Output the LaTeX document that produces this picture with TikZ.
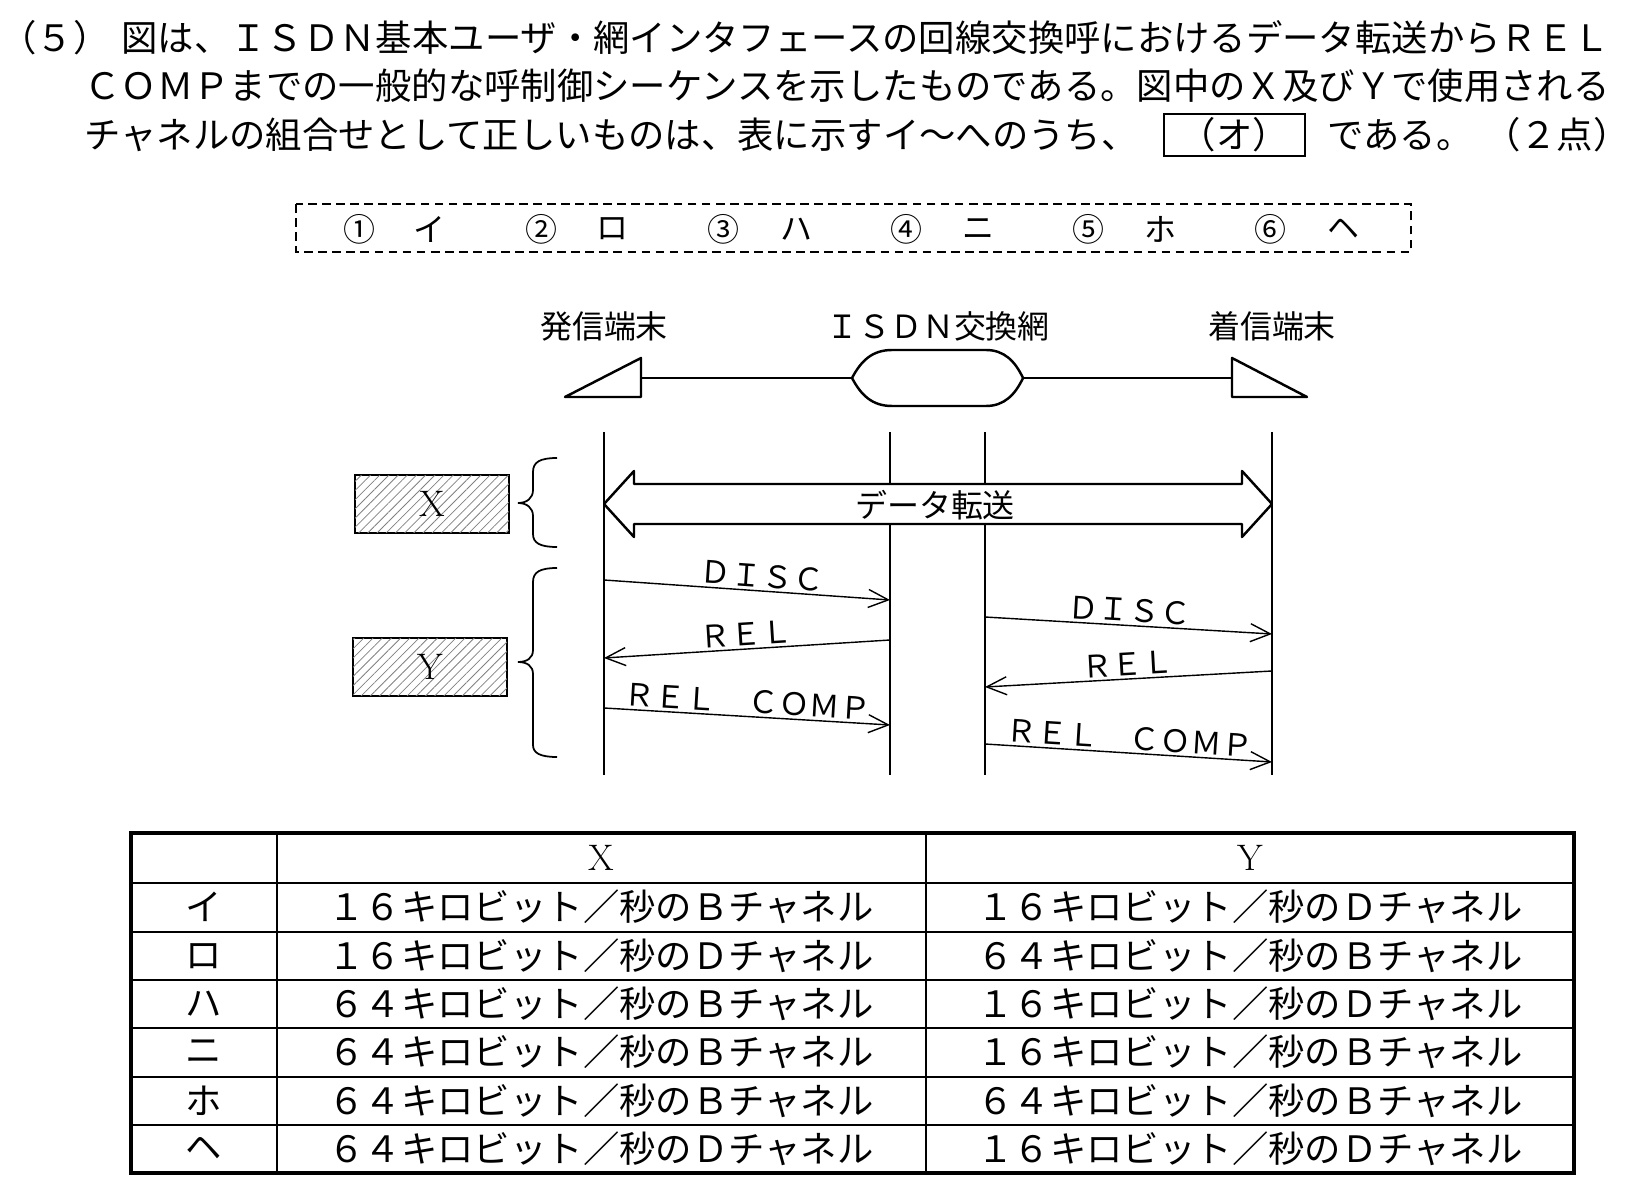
\documentclass[tikz,border=0pt]{standalone}
\usepackage{fontspec}
\newfontfamily\jfont{Noto Sans CJK JP}
\usetikzlibrary{arrows.meta, patterns.meta}

\newcommand{\qsize}{\jfont\fontsize{20.7pt}{25pt}\selectfont}
\newcommand{\lblsize}{\jfont\fontsize{18.2pt}{22pt}\selectfont}
\newcommand{\msgsize}{\jfont\fontsize{17.6pt}{21pt}\selectfont}
\newcommand{\latsize}{\fontsize{21pt}{24pt}\selectfont}

\begin{document}
\begin{tikzpicture}[x=0.02cm, y=-0.02cm,
  qline/.style={anchor=base west, inner sep=0pt, font=\qsize},
  ansbox/.style={draw, line width=1.6pt, minimum width=2.82cm, minimum height=0.84cm, inner sep=0pt, font=\qsize},
  choice/.style={inner sep=0pt, font=\lblsize},
  ent/.style={inner sep=0pt, font=\lblsize},
  heavy/.style={line width=1.4pt, line join=round},
  lifeline/.style={line width=1.4pt},
  hatchbox/.style={draw, line width=1.4pt, minimum width=3.08cm, minimum height=1.16cm, inner sep=0pt,
    postaction={pattern={Lines[angle=45, distance=3.7pt, line width=0.45pt]}, pattern color=black!50},
    font=\latsize},
  brc/.style={line width=1pt},
  msg/.style={-{Straight Barb[length=4mm, width=3.6mm]}, line width=0.8pt},
  msglbl/.style={font=\msgsize, sloped, above, inner sep=1.5pt},
  cell/.style={inner sep=0pt, font=\qsize},
  hcell/.style={inner sep=0pt, font=\latsize}
]
  \useasboundingbox (0,0) rectangle (1632,1195);

  % question text
  \node[qline] (q1a) at (0,51.5) {（５）};
  \node[qline] (q1b) at (121,51.5) {図は、ＩＳＤＮ基本ユーザ・網インタフェースの回線交換呼におけるデータ転送からＲＥＬ};
  \node[qline] (q2) at (84,100) {ＣＯＭＰまでの一般的な呼制御シーケンスを示したものである。図中のＸ及びＹで使用される};
  \node[qline] (q3) at (84,149) {チャネルの組合せとして正しいものは、表に示すイ～へのうち、};
  \node[ansbox] (ans) at (1234.5,135) {（オ）};
  \node[qline] (q3b) at (1327,149) {である。};
  \node[qline, anchor=base east] (q3c) at (1630,149) {（２点）};

  % choices
  \draw[line width=1.2pt, dash pattern=on 5pt off 3pt] (296,204) rectangle (1411,252);
  \node[choice] (c1) at (359,229) {①};
  \node[choice] (k1) at (429,229) {イ};
  \node[choice] (c2) at (541,229) {②};
  \node[choice] (k2) at (612,229) {ロ};
  \node[choice] (c3) at (723,229) {③};
  \node[choice] (k3) at (796,229) {ハ};
  \node[choice] (c4) at (906,229) {④};
  \node[choice] (k4) at (978,229) {ニ};
  \node[choice] (c5) at (1088,229) {⑤};
  \node[choice] (k5) at (1160,229) {ホ};
  \node[choice] (c6) at (1270,229) {⑥};
  \node[choice] (k6) at (1343,229) {ヘ};

  % terminals and network
  \node[ent] (orig) at (604,326) {発信端末};
  \node[ent] (net) at (938,326) {ＩＳＤＮ交換網};
  \node[ent] (dest) at (1272,326) {着信端末};
  \coordinate (trl) at (641,378);
  \coordinate (trr) at (1232,378);
  \coordinate (ovl) at (852,378);
  \coordinate (ovr) at (1023,378);
  \draw[heavy] (565,397) -- (641,358) -- (641,397) -- cycle;
  \draw[heavy] (1232,358) -- (1232,397) -- (1307,397) -- cycle;
  \draw[heavy] (ovl) .. controls (861,361) and (872,350) .. (892,350) -- (986,350)
    .. controls (1004,350) and (1015,361) .. (ovr) .. controls (1015,395) and (1004,406) .. (986,406)
    -- (892,406) .. controls (872,406) and (861,395) .. (ovl) -- cycle;
  \draw[heavy] (trl) -- (ovl);
  \draw[heavy] (ovr) -- (trr);

  % lifelines
  \coordinate (t1) at (604,432);
  \coordinate (t2) at (890,432);
  \coordinate (t3) at (985,432);
  \coordinate (t4) at (1272,432);
  \draw[lifeline] (t1) -- (t1 |- 0,775);
  \draw[lifeline] (t2) -- (t2 |- 0,775);
  \draw[lifeline] (t3) -- (t3 |- 0,775);
  \draw[lifeline] (t4) -- (t4 |- 0,775);

  % data transfer
  \coordinate (dl) at (t1 |- 0,504);
  \coordinate (dr) at (t4 |- 0,504);
  \draw[heavy, fill=white] (dl) -- ++(30,-33) -- ++(0,13) -- ++(608,0) -- ++(0,-13) -- (dr)
    -- ++(-30,33) -- ++(0,-13) -- ++(-608,0) -- ++(0,13) -- cycle;
  \node[ent] (dtxt) at (935,505) {データ転送};

  % X and Y
  \node[hatchbox] (xbox) at (432,504) {X};
  \node[hatchbox] (ybox) at (430,667) {Y};
  \draw[brc] (557,458) .. controls (540,458) and (533,462) .. (533,472) -- (533,490)
    .. controls (533,498) and (527,503) .. (518,503) .. controls (527,503) and (533,508) .. (533,516)
    -- (533,534) .. controls (533,543) and (540,547) .. (557,547);
  \draw[brc] (557,568) .. controls (540,568) and (533,572) .. (533,582) -- (533,650)
    .. controls (533,658) and (527,662) .. (518,662) .. controls (527,662) and (533,666) .. (533,674)
    -- (533,745) .. controls (533,753) and (540,757) .. (557,757);

  % messages
  \draw[msg] (t1 |- 0,580) -- node[msglbl, pos=.55] (m1) {ＤＩＳＣ} (t2 |- 0,600);
  \draw[msg] (t2 |- 0,640) -- node[msglbl] (m2) {ＲＥＬ} (t1 |- 0,658);
  \draw[msg] (t1 |- 0,708) -- node[msglbl] (m3) {ＲＥＬ　ＣＯＭＰ} (t2 |- 0,725);
  \draw[msg] (t3 |- 0,617) -- node[msglbl] (m4) {ＤＩＳＣ} (t4 |- 0,634);
  \draw[msg] (t4 |- 0,671) -- node[msglbl] (m5) {ＲＥＬ} (t3 |- 0,687);
  \draw[msg] (t3 |- 0,744) -- node[msglbl] (m6) {ＲＥＬ　ＣＯＭＰ} (t4 |- 0,762);

  % table
  \draw[line width=2pt] (131,833) rectangle (1574,1173);
  \draw[line width=1.6pt] (131,883) -- (1574,883);
  \draw[line width=1.6pt] (277,833) -- (277,1173);
  \draw[line width=0.8pt] (926,833) -- (926,1173);
  \draw[line width=0.8pt] (131,932) -- (1574,932);
  \draw[line width=0.8pt] (131,980) -- (1574,980);
  \draw[line width=0.8pt] (131,1028) -- (1574,1028);
  \draw[line width=0.8pt] (131,1077) -- (1574,1077);
  \draw[line width=0.8pt] (131,1125) -- (1574,1125);

  \node[hcell] (hx) at (601,858) {X};
  \node[hcell] (hy) at (1250,858) {Y};
  \node[cell] (r1) at (204,907) {イ};
  \node[cell] (r1x) at (601,907) {１６キロビット／秒のＢチャネル};
  \node[cell] (r1y) at (1250,907) {１６キロビット／秒のＤチャネル};
  \node[cell] (r2) at (204,956) {ロ};
  \node[cell] (r2x) at (601,956) {１６キロビット／秒のＤチャネル};
  \node[cell] (r2y) at (1250,956) {６４キロビット／秒のＢチャネル};
  \node[cell] (r3) at (204,1004) {ハ};
  \node[cell] (r3x) at (601,1004) {６４キロビット／秒のＢチャネル};
  \node[cell] (r3y) at (1250,1004) {１６キロビット／秒のＤチャネル};
  \node[cell] (r4) at (204,1052) {ニ};
  \node[cell] (r4x) at (601,1052) {６４キロビット／秒のＢチャネル};
  \node[cell] (r4y) at (1250,1052) {１６キロビット／秒のＢチャネル};
  \node[cell] (r5) at (204,1101) {ホ};
  \node[cell] (r5x) at (601,1101) {６４キロビット／秒のＢチャネル};
  \node[cell] (r5y) at (1250,1101) {６４キロビット／秒のＢチャネル};
  \node[cell] (r6) at (204,1149) {ヘ};
  \node[cell] (r6x) at (601,1149) {６４キロビット／秒のＤチャネル};
  \node[cell] (r6y) at (1250,1149) {１６キロビット／秒のＤチャネル};
\end{tikzpicture}
\end{document}
